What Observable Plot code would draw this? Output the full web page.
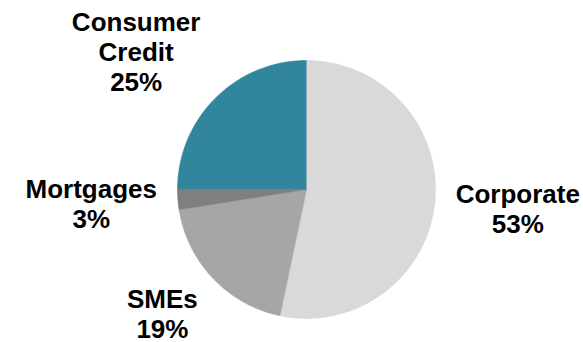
<!DOCTYPE html>
<html>
<head>
<meta charset="utf-8">
<script src="https://cdn.jsdelivr.net/npm/d3@7"></script>
<script src="https://cdn.jsdelivr.net/npm/@observablehq/plot@0.6"></script>
<style>
  html, body { margin: 0; padding: 0; background: #ffffff; }
  #chart { width: 583px; height: 342px; }
</style>
</head>
<body>
<div id="chart"></div>
<script>
// ---- data ----
const categories = ["Corporate", "SMEs", "Mortgages", "Consumer Credit"];
const labelNames = ["Corporate", "SMEs", "Mortgages", "Consumer\nCredit"];
const shares = [53.3, 19.2, 2.5, 25.0];
const colors = ["#d9d9d9", "#a6a6a6", "#7f7f7f", "#31859c"];

// ---- layout ----
const W = 583, H = 342;
const cx = 306, cy = 189, r = 129;
const fontSize = 26, lineHeightPx = 30;
const fontFamily = "'Liberation Sans', Arial, Helvetica, sans-serif";

const rows = categories.map((c, i) => ({category: c, name: labelNames[i], share: shares[i]}));
const arcs = d3.pie().sort(null).value(d => d.share).startAngle(0).endAngle(2 * Math.PI)(rows);

// polygon points for each slice (unit circle, y up)
const slicePts = [];
for (const a of arcs) {
  const n = Math.max(2, Math.ceil((a.endAngle - a.startAngle) / (Math.PI / 360)));
  slicePts.push({category: a.data.category, x: 0, y: 0});
  for (let i = 0; i <= n; i++) {
    const t = a.startAngle + (a.endAngle - a.startAngle) * i / n;
    slicePts.push({category: a.data.category, x: Math.sin(t), y: Math.cos(t)});
  }
}

// label positions: outside end, label box pushed outward from the mid-angle point
const ctx = document.createElement("canvas").getContext("2d");
ctx.font = `bold ${fontSize}px ${fontFamily}`;
const R = 150;
const labelData = arcs.map(a => {
  const mid = (a.startAngle + a.endAngle) / 2;
  const ux = Math.sin(mid), uy = -Math.cos(mid);
  const text = `${a.data.name}\n${Math.round(a.data.share)}%`;
  const lines = text.split("\n");
  const w = Math.max(...lines.map(l => ctx.measureText(l).width));
  const h = lines.length * lineHeightPx;
  const ox = R * ux + (w / 2) * Math.sign(ux);
  const oy = R * uy + (h / 2) * uy;
  return {x: ox / r, y: -oy / r, text};
});

const chart = Plot.plot({
  width: W,
  height: H,
  marginLeft: cx - r,
  marginRight: W - (cx + r),
  marginTop: cy - r,
  marginBottom: H - (cy + r),
  x: {domain: [-1, 1], axis: null},
  y: {domain: [-1, 1], axis: null},
  color: {domain: categories, range: colors},
  style: {background: "#ffffff", overflow: "visible"},
  marks: [
    Plot.line(slicePts, {
      x: "x", y: "y", z: "category",
      fill: "category", stroke: "category", strokeWidth: 0.6,
      curve: "linear"
    }),
    Plot.text(labelData, {
      x: "x", y: "y", text: "text",
      fontSize, fontWeight: "bold", fontFamily,
      lineHeight: lineHeightPx / fontSize,
      textAnchor: "middle", lineAnchor: "middle",
      fill: "#000000"
    })
  ]
});
document.getElementById("chart").appendChild(chart);
</script>
</body>
</html>
